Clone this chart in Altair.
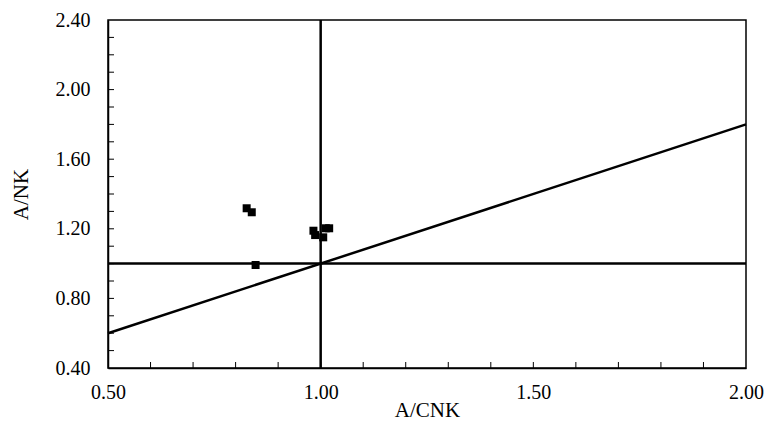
import altair as alt
import pandas as pd

# Sample points (A/CNK, A/NK)
acnk = [0.826, 0.838, 0.847, 0.983, 0.987, 1.006, 1.012, 1.020]
ank = [1.318, 1.295, 0.992, 1.189, 1.164, 1.151, 1.203, 1.203]

# Reference lines (x1, y1, x2, y2)
line_x1 = [1.0, 0.5, 0.5]
line_y1 = [0.4, 1.0, 0.6]
line_x2 = [1.0, 2.0, 2.0]
line_y2 = [2.4, 1.0, 1.8]

# Axis ticks
x_labels = [0.5, 1.0, 1.5, 2.0]
y_labels = [0.4, 0.8, 1.2, 1.6, 2.0, 2.4]
x_ticks = [0.6, 0.7, 0.8, 0.9, 1.0, 1.1, 1.2, 1.3, 1.4, 1.5, 1.6, 1.7, 1.8, 1.9]
y_ticks = [0.5, 0.6, 0.7, 0.8, 0.9, 1.0, 1.1, 1.2, 1.3, 1.4, 1.5, 1.6, 1.7, 1.8,
           1.9, 2.0, 2.1, 2.2, 2.3]

W, H = 638, 348
FONT = "Times New Roman"

pts = pd.DataFrame({"x": acnk, "y": ank})
lines = pd.DataFrame({"x": line_x1, "y": line_y1, "x2": line_x2, "y2": line_y2})
xt = pd.DataFrame({"x": x_ticks})
yt = pd.DataFrame({"y": y_ticks})

xs = alt.Scale(domain=[0.5, 2.0], nice=False, zero=False)
ys = alt.Scale(domain=[0.4, 2.4], nice=False, zero=False)

x_axis = alt.Axis(values=x_labels, format=".2f", title="A/CNK",
                  labelPadding=14, titlePadding=-3)
y_axis = alt.Axis(values=y_labels, format=".2f", title="A/NK",
                  labelPadding=18, titlePadding=24)

refs = alt.Chart(lines).mark_rule(color="black", strokeWidth=2.5).encode(
    x=alt.X("x:Q", scale=xs, axis=x_axis),
    y=alt.Y("y:Q", scale=ys, axis=y_axis),
    x2="x2:Q", y2="y2:Q")

xtick = alt.Chart(xt).mark_rule(color="black", strokeWidth=1).encode(
    x=alt.X("x:Q", scale=xs, axis=x_axis), y=alt.value(H), y2=alt.value(H - 6))
ytick = alt.Chart(yt).mark_rule(color="black", strokeWidth=1).encode(
    y=alt.Y("y:Q", scale=ys, axis=y_axis), x=alt.value(0), x2=alt.value(6))

points = alt.Chart(pts).mark_point(shape="square", filled=True, color="black",
                                   size=64, opacity=1).encode(
    x=alt.X("x:Q", scale=xs, axis=x_axis), y=alt.Y("y:Q", scale=ys, axis=y_axis))

chart = alt.layer(refs, xtick, ytick, points).properties(
    width=W, height=H,
    autosize=alt.AutoSizeParams(type="none"),
    padding={"left": 108, "top": 20, "right": 21, "bottom": 53},
    background="white",
).configure(font=FONT).configure_view(stroke="black", strokeWidth=1.5).configure_axis(
    ticks=False, grid=False, labelFlush=False, labelOverlap=False,
    domainColor="black", domainWidth=1.5,
    labelFont=FONT, labelFontSize=20, labelColor="black",
    titleFont=FONT, titleFontSize=21, titleFontWeight="normal", titleColor="black",
)

chart.save("out.html", embed_options={"renderer": "svg", "actions": False})
